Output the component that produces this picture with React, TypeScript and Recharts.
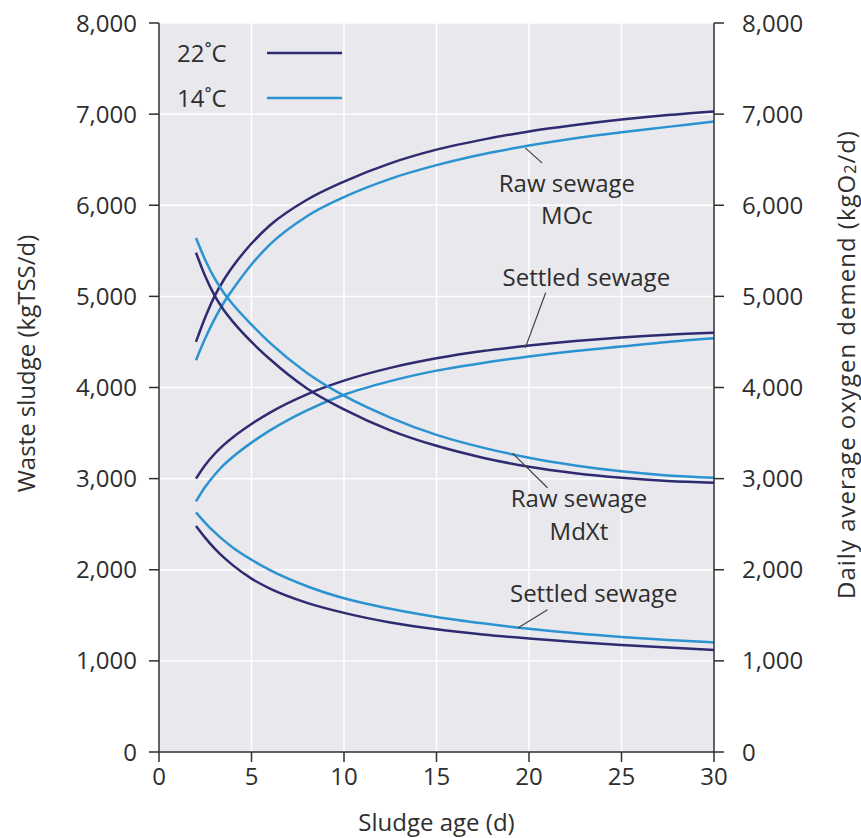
import {
  LineChart,
  Line,
  XAxis,
  YAxis,
  CartesianGrid,
  Legend,
  Label,
  ReferenceLine,
  ReferenceDot,
} from 'recharts';

// sludge age (d)
const AGES = [2, 2.5, 3, 3.5, 4, 5, 6, 8, 10, 12.5, 15, 17.5, 20, 22.5, 25, 27.5, 30];

// oxygen demand MOc (kgO2/d), raw sewage
const RAW_MOC_22 = [4500, 4770, 5000, 5180, 5330, 5580, 5780, 6060, 6260, 6460, 6610, 6720, 6810, 6880, 6940, 6990, 7030];
const RAW_MOC_14 = [4300, 4540, 4750, 4930, 5080, 5350, 5570, 5880, 6090, 6290, 6440, 6560, 6655, 6735, 6800, 6860, 6920];
// oxygen demand MOc (kgO2/d), settled sewage
const SET_MOC_22 = [3000, 3150, 3270, 3370, 3455, 3600, 3725, 3925, 4075, 4215, 4320, 4400, 4460, 4510, 4550, 4580, 4600];
const SET_MOC_14 = [2750, 2910, 3040, 3150, 3240, 3395, 3530, 3750, 3920, 4070, 4185, 4270, 4340, 4400, 4450, 4500, 4540];
// waste sludge MdXt (kgTSS/d), raw sewage
const RAW_MDXT_22 = [5480, 5220, 5010, 4850, 4720, 4500, 4310, 3990, 3760, 3530, 3360, 3230, 3130, 3060, 3010, 2975, 2955];
const RAW_MDXT_14 = [5640, 5400, 5200, 5040, 4910, 4690, 4490, 4160, 3910, 3670, 3480, 3340, 3230, 3145, 3080, 3035, 3010];
// waste sludge MdXt (kgTSS/d), settled sewage
const SET_MDXT_22 = [2480, 2350, 2235, 2135, 2048, 1903, 1793, 1637, 1527, 1422, 1347, 1290, 1245, 1207, 1175, 1146, 1120];
const SET_MDXT_14 = [2630, 2515, 2412, 2322, 2242, 2110, 1995, 1819, 1687, 1572, 1482, 1412, 1352, 1302, 1262, 1230, 1202];

const X_TICKS = [0, 5, 10, 15, 20, 25, 30];
const Y_TICKS = [0, 1000, 2000, 3000, 4000, 5000, 6000, 7000, 8000];

const DARK = '#2f2b70';
const LIGHT = '#2a93d0';
const INK = '#2e2e2e';
const FONT = '"Open Sans", sans-serif';
const FS = 24;

const SERIES = [
  { key: 'rawMoc22', values: RAW_MOC_22, color: DARK, axis: 'right' },
  { key: 'rawMoc14', values: RAW_MOC_14, color: LIGHT, axis: 'right' },
  { key: 'setMoc22', values: SET_MOC_22, color: DARK, axis: 'right' },
  { key: 'setMoc14', values: SET_MOC_14, color: LIGHT, axis: 'right' },
  { key: 'rawMdxt22', values: RAW_MDXT_22, color: DARK, axis: 'left' },
  { key: 'rawMdxt14', values: RAW_MDXT_14, color: LIGHT, axis: 'left' },
  { key: 'setMdxt22', values: SET_MDXT_22, color: DARK, axis: 'left' },
  { key: 'setMdxt14', values: SET_MDXT_14, color: LIGHT, axis: 'left' },
];

const LEGEND_ITEMS = [
  { label: '22˚C', color: DARK },
  { label: '14˚C', color: LIGHT },
];

// curve annotations (data coordinates)
const NOTES = [
  { text: 'Raw sewage', x: 22.05, y: 6246 },
  { text: 'MOc', x: 22.05, y: 5895 },
  { text: 'Settled sewage', x: 23.1, y: 5214 },
  { text: 'Raw sewage', x: 22.7, y: 2788 },
  { text: 'MdXt', x: 22.7, y: 2426 },
  { text: 'Settled sewage', x: 23.5, y: 1745 },
];

const LEADERS = [
  [{ x: 19.8, y: 6630 }, { x: 20.7, y: 6465 }],
  [{ x: 20.9, y: 5040 }, { x: 19.8, y: 4435 }],
  [{ x: 19.1, y: 3280 }, { x: 21.0, y: 2900 }],
  [{ x: 21.0, y: 1560 }, { x: 19.4, y: 1360 }],
];

const data = AGES.map((age, i) => {
  const row: Record<string, number> = { age };
  SERIES.forEach((s) => {
    row[s.key] = s.values[i];
  });
  return row;
});

const fmt = (v: number) => v.toLocaleString('en-US');

const tickStyle = { fill: INK, fontSize: FS, fontFamily: FONT };
const axisStroke = { stroke: INK, strokeWidth: 1.5 };

function LegendBox() {
  return (
    <svg width={180} height={75}>
      {LEGEND_ITEMS.map((item, i) => (
        <g key={item.label}>
          <text
            x={0}
            y={15 + i * 45}
            dominantBaseline="central"
            fontSize={FS}
            fontFamily={FONT}
            fill={INK}
          >
            {item.label}
          </text>
          <line x1={90} x2={165} y1={16 + i * 45} y2={16 + i * 45} stroke={item.color} strokeWidth={2.5} />
        </g>
      ))}
    </svg>
  );
}

function rotatedTitle(text: any, dx: number, dy: number, spacing = 0) {
  return ({ viewBox }: any) => {
    const cx = viewBox.x + dx;
    const cy = viewBox.y + viewBox.height / 2 + dy;
    return (
      <text
        x={cx}
        y={cy}
        transform={`rotate(-90 ${cx} ${cy})`}
        textAnchor="middle"
        dominantBaseline="central"
        fontSize={FS}
        fontFamily={FONT}
        letterSpacing={spacing}
        fill={INK}
      >
        {text}
      </text>
    );
  };
}

export default function App() {
  return (
    <div style={{ position: 'absolute', left: 0, top: 0, background: '#fff' }}>
      <LineChart width={861} height={838} data={data} margin={{ top: 23, right: 0, bottom: 0, left: 0 }}>
        <CartesianGrid fill="#e8e8ed" stroke="#ffffff" strokeWidth={1.5} yAxisId="left" />
        <XAxis
          dataKey="age"
          type="number"
          domain={[0, 30]}
          ticks={X_TICKS}
          height={86}
          tick={tickStyle}
          tickSize={10}
          tickMargin={6}
          axisLine={axisStroke}
          tickLine={axisStroke}
        >
          <Label
            content={({ viewBox }: any) => (
              <text
                x={viewBox.x + viewBox.width / 2}
                y={821}
                textAnchor="middle"
                dominantBaseline="central"
                fontSize={FS}
                fontFamily={FONT}
                fill={INK}
              >
                Sludge age (d)
              </text>
            )}
          />
        </XAxis>
        <YAxis
          yAxisId="left"
          domain={[0, 8000]}
          ticks={Y_TICKS}
          width={159}
          tickFormatter={fmt}
          tick={tickStyle}
          tickSize={10}
          tickMargin={12}
          axisLine={axisStroke}
          tickLine={axisStroke}
        >
          <Label content={rotatedTitle('Waste sludge (kgTSS/d)', 25, -24)} />
        </YAxis>
        <YAxis
          yAxisId="right"
          orientation="right"
          domain={[0, 8000]}
          ticks={Y_TICKS}
          width={147}
          tickFormatter={fmt}
          tick={tickStyle}
          tickSize={10}
          tickMargin={18}
          axisLine={axisStroke}
          tickLine={axisStroke}
        >
          <Label
            content={rotatedTitle(
              <>
                Daily average oxygen demend (kgO
                <tspan dy={5} fontSize={16}>2</tspan>
                <tspan dy={-5}>/d)</tspan>
              </>,
              131,
              -23,
              1,
            )}
          />
        </YAxis>

        <Legend
          layout="vertical"
          align="center"
          verticalAlign="middle"
          content={() => <LegendBox />}
          wrapperStyle={{ top: 37, left: 177, width: 180, height: 75 }}
        />

        {SERIES.map((s) => (
          <Line
            key={s.key}
            yAxisId={s.axis}
            type="monotone"
            dataKey={s.key}
            stroke={s.color}
            strokeWidth={2.5}
            dot={false}
            activeDot={false}
            isAnimationActive={false}
          />
        ))}

        {LEADERS.map((seg, i) => (
          <ReferenceLine key={i} yAxisId="left" segment={seg} stroke="#444" strokeWidth={1.2} />
        ))}

        {NOTES.map((n, i) => (
          <ReferenceDot
            key={i}
            yAxisId="left"
            x={n.x}
            y={n.y}
            r={0}
            shape={(p: any) => (
              <text
                x={p.cx}
                y={p.cy}
                textAnchor="middle"
                dominantBaseline="central"
                fontSize={FS}
                fontFamily={FONT}
                fill={INK}
              >
                {n.text}
              </text>
            )}
          />
        ))}
      </LineChart>
    </div>
  );
}
